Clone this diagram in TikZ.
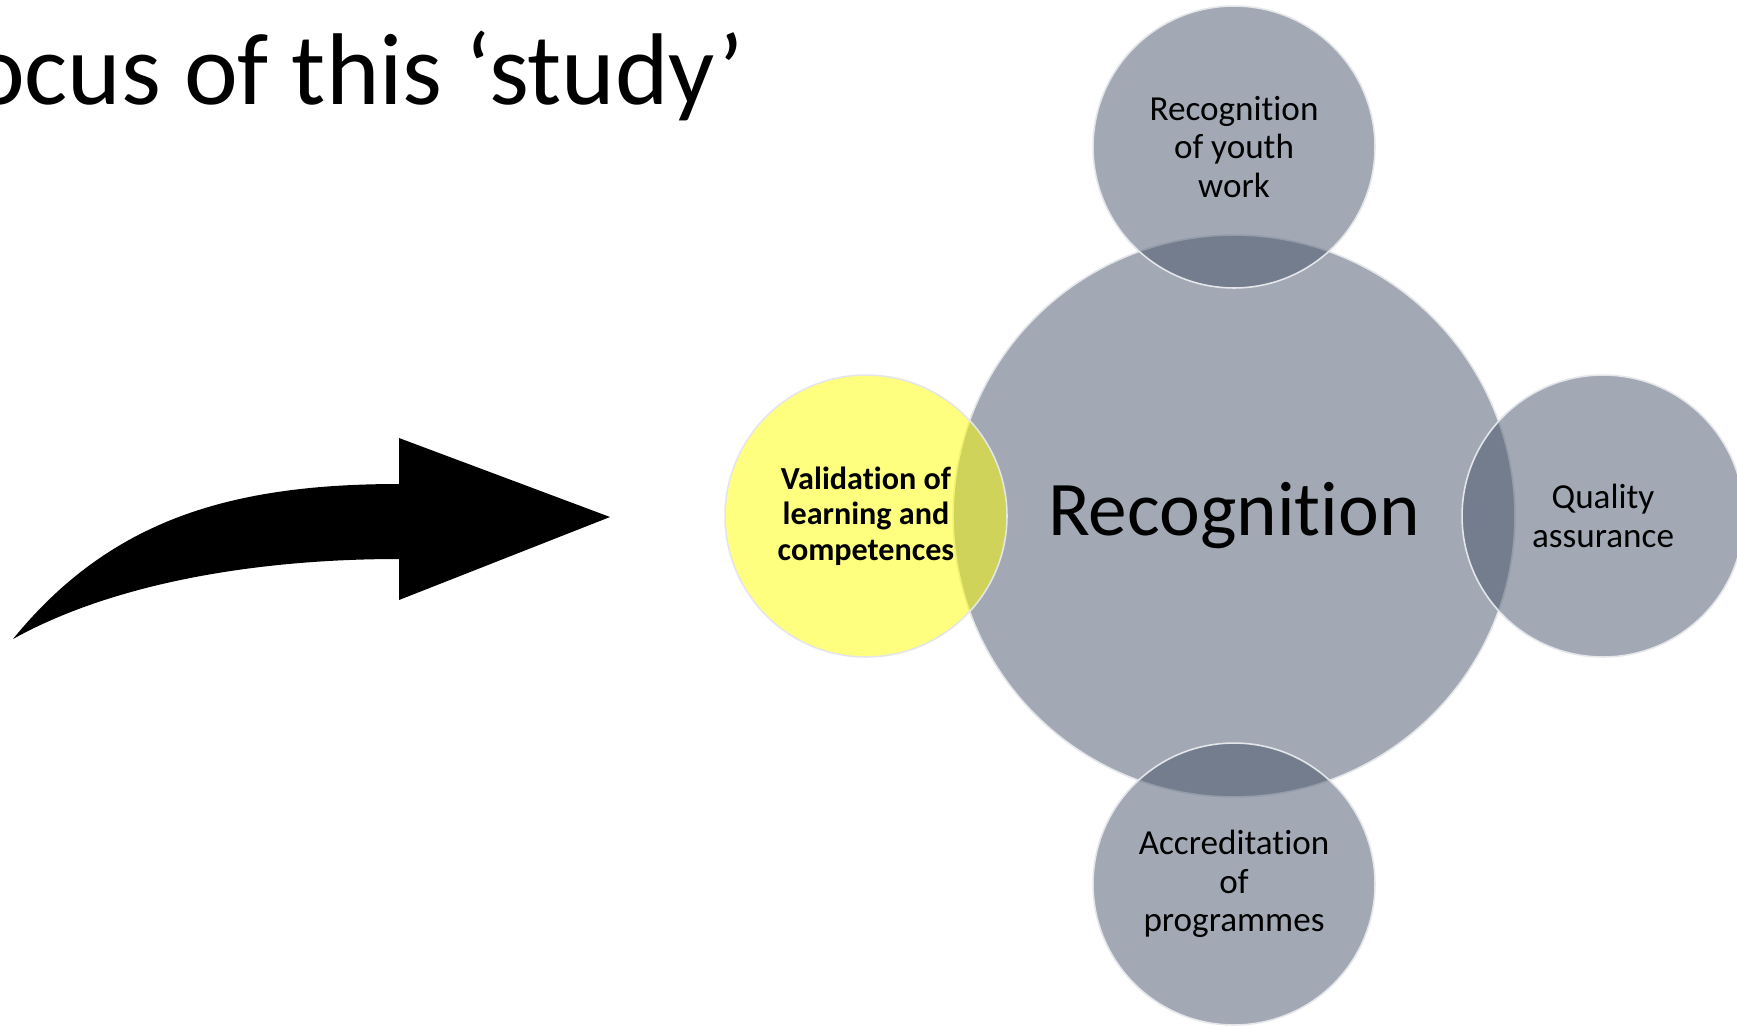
\documentclass[tikz,border=0pt]{standalone}
\usepackage{fontspec}
\setmainfont{Carlito}[Ligatures=CommonOff]
\usetikzlibrary{calc}

\definecolor{ringgray}{HTML}{455369}
\definecolor{focusyellow}{HTML}{FFFF00}
\definecolor{rimwhite}{HTML}{E4E6EA}

\tikzset{
  bubble/.style={circle, draw=rimwhite, line width=0.9pt, fill opacity=0.5, text opacity=1, inner sep=0pt, align=center},
  hub/.style={bubble, fill=ringgray, minimum size=11.24cm, font=\fontsize{44}{50}\selectfont},
  spoke/.style={bubble, fill=ringgray, minimum size=5.64cm, font=\fontsize{20}{22}\selectfont},
  focus/.style={bubble, fill=focusyellow, minimum size=5.64cm, font=\bfseries\fontsize{18.3}{20.1}\selectfont}
}

\begin{document}
\begin{tikzpicture}[x=0.02cm, y=-0.02cm]
        \useasboundingbox (0,0) rectangle (1737,1025);
        \clip (0,0) rectangle (1737,1025);

        \node[anchor=base east, font=\fontsize{58}{60}\selectfont] (title) at (750,104) {Focus of this ‘study’};

        % curved block arrow
        \coordinate (tail) at (13,639);
        \coordinate (tip) at (610,517);
        \fill[black] (tail) .. controls (110,520) and (230,484) .. (399,484) -- (399,438) -- (tip)
            -- (399,600) -- (399,559) .. controls (250,559) and (110,585) .. (tail) -- cycle;

        \node[hub] (hub) at (1234,516) {Recognition};
        \node[spoke] (youth) at (1234,147) {Recognition\\of youth\\work};
        \node[spoke] (quality) at (1603,516) {Quality\\assurance};
        \node[spoke] (accred) at (1234,884) {Accreditation\\of\\programmes};
        \node[focus] (valid) at (866,516) {Validation of\\learning and\\competences};
    \end{tikzpicture}
\end{document}
